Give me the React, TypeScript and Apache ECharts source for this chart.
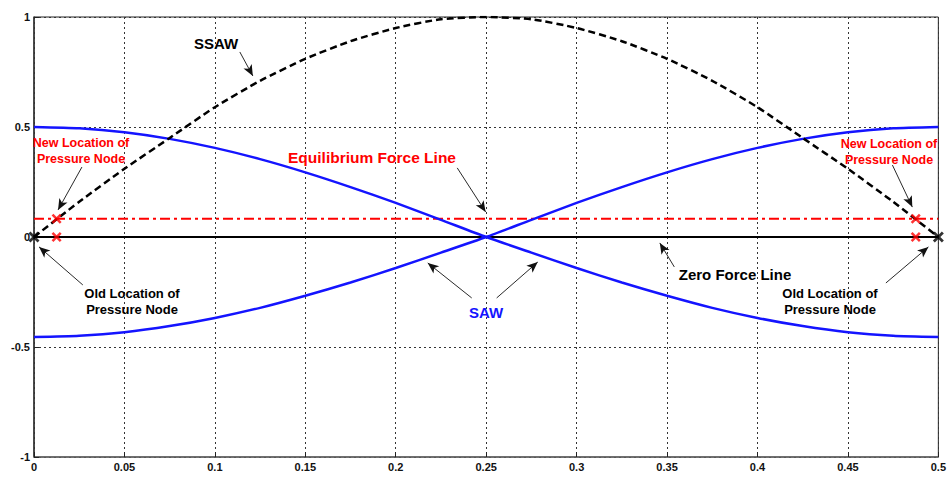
import React, { useEffect, useRef } from "react";
import * as echarts from "echarts";

// positions along the half wavelength (x / lambda)
const xs = [0, 0.025, 0.05, 0.075, 0.1, 0.125, 0.15, 0.175, 0.2, 0.225, 0.25, 0.275, 0.3, 0.325, 0.35, 0.375, 0.4, 0.425, 0.45, 0.475, 0.5];
// SSAW (dashed black)
const ssaw = [0, 0.16, 0.31, 0.45, 0.59, 0.71, 0.81, 0.89, 0.95, 0.99, 1.0, 0.99, 0.95, 0.89, 0.81, 0.71, 0.59, 0.45, 0.31, 0.16, 0];
// SAW, descending branch
const sawDown = [0.5, 0.494, 0.476, 0.446, 0.405, 0.354, 0.294, 0.227, 0.155, 0.078, 0, -0.071, -0.141, -0.207, -0.267, -0.322, -0.368, -0.405, -0.433, -0.449, -0.455];
// SAW, ascending branch
const sawUp = [-0.455, -0.449, -0.433, -0.405, -0.368, -0.322, -0.267, -0.207, -0.141, -0.071, 0, 0.078, 0.155, 0.227, 0.294, 0.354, 0.405, 0.446, 0.476, 0.494, 0.5];
// equilibrium force level
const equilibrium = 0.083;
// pressure node locations
const newNodes: [number, number][] = [[0.0125, 0.083], [0.0125, 0], [0.4875, 0.083], [0.4875, 0]];
const oldNodes: [number, number][] = [[0, 0], [0.5, 0]];
const xTicks = ["0", "0.05", "0.1", "0.15", "0.2", "0.25", "0.3", "0.35", "0.4", "0.45", "0.5"];
const yTicks = ["-1", "-0.5", "0", "0.5", "1"];
// annotation arrows in data units: [fromX, fromY, toX, toY]
const arrows: [number, number, number, number][] = [
  [0.1138, 0.841, 0.121, 0.732],
  [0.0265, 0.318, 0.0133, 0.123],
  [0.234, 0.314, 0.2497, 0.114],
  [0.4746, 0.327, 0.4856, 0.136],
  [0.354, -0.136, 0.346, -0.027],
  [0.471, -0.209, 0.4945, -0.045],
  [0.027, -0.218, 0.0028, -0.045],
  [0.242, -0.277, 0.2177, -0.118],
  [0.2558, -0.277, 0.2785, -0.114],
];

const XSYM = "path://M0,1.8 L1.8,0 L5,3.2 L8.2,0 L10,1.8 L6.8,5 L10,8.2 L8.2,10 L5,6.8 L1.8,10 L0,8.2 L3.2,5 Z";

export default function App() {
  const ref = useRef<HTMLDivElement>(null);
  useEffect(() => {
    if (!ref.current) return;
    const chart = echarts.init(ref.current, undefined, { renderer: "svg" });
    const pair = (arr: number[]) => xs.map((x, i) => [x, arr[i]]);
    const font = "'Liberation Sans', Arial, sans-serif";
    const txt = (x: number, y: number, text: string, color: string, size: number) => ({
      type: "text",
      x,
      y,
      style: {
        text,
        fill: color,
        font: `bold ${size}px ${font}`,
        textAlign: "center",
        textVerticalAlign: "middle",
        lineHeight: 16,
      },
      z: 100,
    });
    chart.setOption({
      animation: false,
      backgroundColor: "#fff",
      grid: { left: 34, right: 10, top: 17, bottom: 20, show: true, borderColor: "#222", borderWidth: 1 },
      xAxis: {
        type: "value",
        min: 0,
        max: 0.5,
        interval: 0.05,
        axisLine: { show: true, onZero: false, lineStyle: { color: "#666", width: 1.5 } },
        axisTick: { show: true, inside: true, length: 5, lineStyle: { color: "#222" } },
        axisLabel: {
          margin: 4,
          color: "#111",
          fontWeight: "bold",
          fontSize: 11,
          fontFamily: "'Liberation Sans Narrow', 'Liberation Sans', Arial, sans-serif",
          formatter: (v: number) => xTicks[Math.round(v / 0.05)] ?? "",
        },
        splitLine: { show: true, lineStyle: { color: "#333", type: [2, 3], width: 1 } },
      },
      yAxis: {
        type: "value",
        min: -1,
        max: 1,
        interval: 0.5,
        axisLine: { show: true, onZero: false, lineStyle: { color: "#333", width: 1.5 } },
        axisTick: { show: true, inside: true, length: 5, lineStyle: { color: "#222" } },
        axisLabel: {
          margin: 4,
          color: "#111",
          fontWeight: "bold",
          fontSize: 11,
          fontFamily: font,
          formatter: (v: number) => yTicks[Math.round((v + 1) / 0.5)] ?? "",
        },
        splitLine: { show: true, lineStyle: { color: "#333", type: [2, 3], width: 1 } },
      },
      series: [
        {
          type: "line",
          data: [[0, 0], [0.5, 0]],
          symbol: "none",
          lineStyle: { color: "#000", width: 2 },
          z: 3,
          silent: true,
          markLine: {
            silent: true,
            symbol: ["none", "arrow"],
            symbolSize: [7, 11],
            label: { show: false },
            lineStyle: { color: "#111", width: 0.9, type: "solid" },
            data: arrows.map(([a, b, c, d]) => [{ coord: [a, b] }, { coord: [c, d] }]),
          },
        },
        {
          type: "line",
          data: [[0, equilibrium], [0.5, equilibrium]],
          symbol: "none",
          lineStyle: { color: "#ff0000", width: 2, type: [10, 4, 3, 4] },
          z: 4,
        },
        {
          type: "line",
          data: pair(sawDown),
          symbol: "none",
          smooth: 0.2,
          lineStyle: { color: "#1414ff", width: 2.5 },
          z: 5,
        },
        {
          type: "line",
          data: pair(sawUp),
          symbol: "none",
          smooth: 0.2,
          lineStyle: { color: "#1414ff", width: 2.5 },
          z: 5,
        },
        {
          type: "line",
          data: pair(ssaw),
          symbol: "none",
          smooth: 0.2,
          lineStyle: { color: "#000", width: 2.5, type: [7, 4] },
          z: 6,
        },
        {
          type: "scatter",
          data: newNodes,
          symbol: XSYM,
          symbolSize: 10,
          itemStyle: { color: "#ff0000" },
          z: 7,
        },
        {
          type: "scatter",
          data: oldNodes,
          symbol: XSYM,
          symbolSize: 11,
          itemStyle: { color: "#000" },
          z: 7,
        },
      ],
      graphic: [
        txt(216, 43, "SSAW", "#000", 15),
        txt(81, 143, "New Location of", "#ff0000", 12.5),
        txt(81, 159, "Pressure Node", "#ff0000", 12.5),
        txt(372, 157, "Equilibrium Force Line", "#ff0000", 15.5),
        txt(889, 144, "New Location of", "#ff0000", 12.5),
        txt(889, 160, "Pressure Node", "#ff0000", 12.5),
        txt(735, 274, "Zero Force Line", "#000", 15),
        txt(830, 293, "Old Location of", "#000", 13),
        txt(830, 309, "Pressure Node", "#000", 13),
        txt(132, 293, "Old Location of", "#000", 13),
        txt(132, 309, "Pressure Node", "#000", 13),
        txt(486, 312, "SAW", "#1414ff", 15),
      ],
    });
    return () => chart.dispose();
  }, []);
  return (
    <div
      ref={ref}
      style={{ position: "fixed", left: 0, top: 0, width: 949, height: 477, background: "#fff" }}
    />
  );
}
